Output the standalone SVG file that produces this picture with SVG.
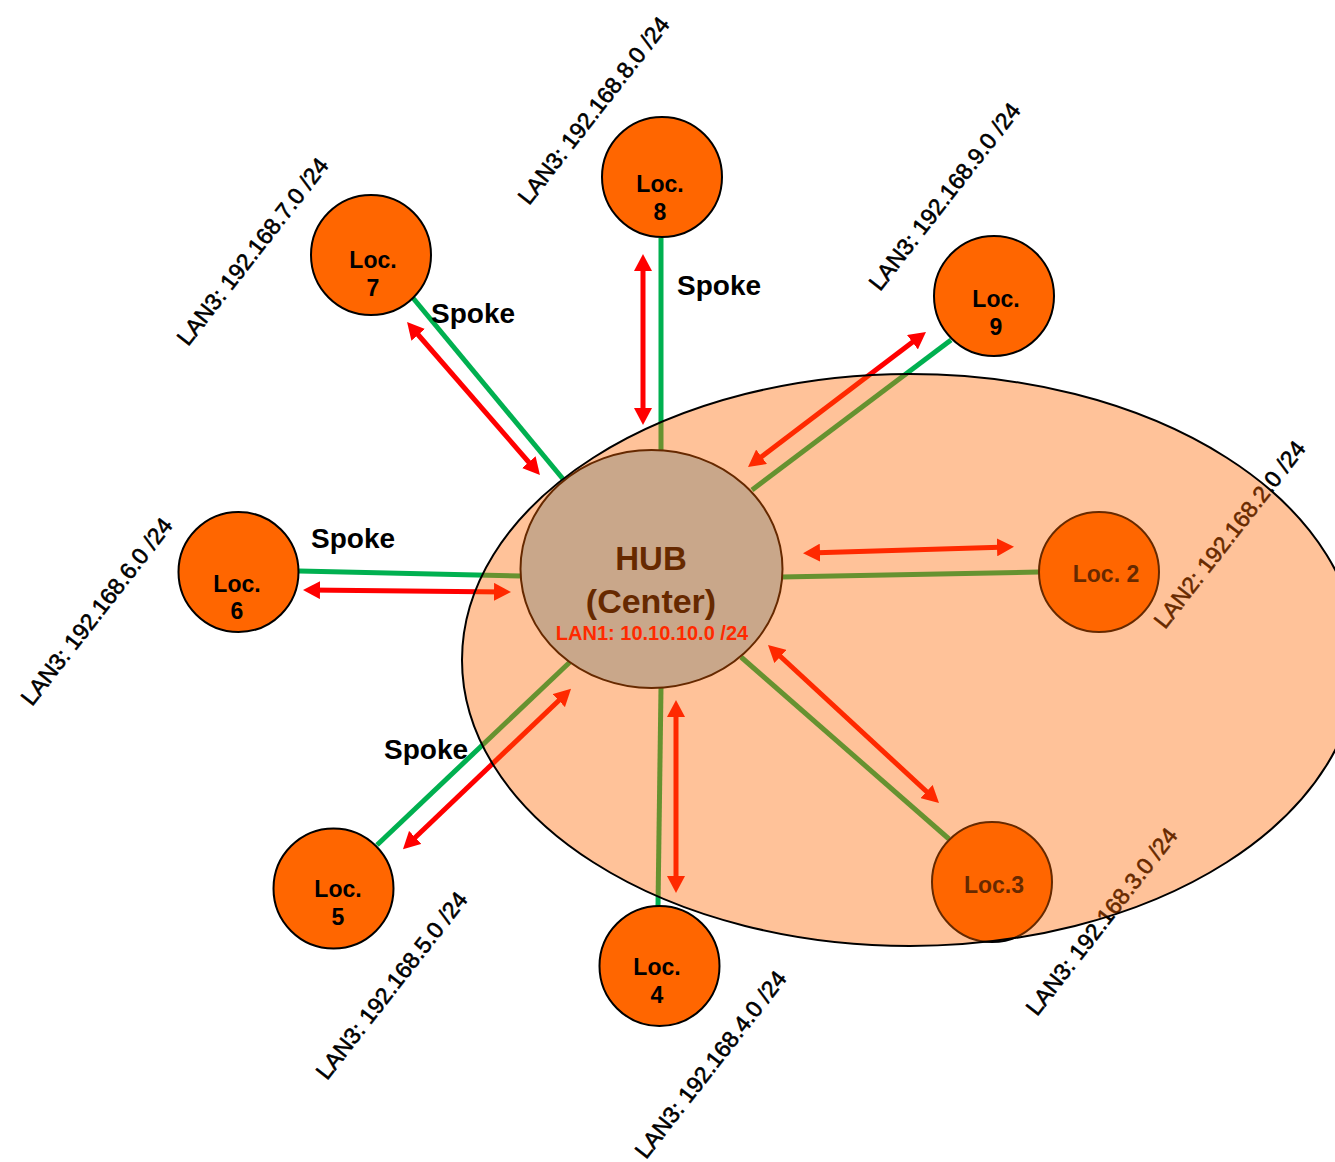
<svg xmlns="http://www.w3.org/2000/svg" width="1335" height="1162" viewBox="0 0 1335 1162">
<style>
.loc{fill:#ff6600;stroke:#000;stroke-width:2}
.lt{font-family:"Liberation Sans",Arial,sans-serif;font-weight:bold;font-size:23px;text-anchor:middle;fill:#000}
.sp{font-family:"Liberation Sans",Arial,sans-serif;font-weight:bold;font-size:28px;fill:#000}
.lan{font-family:"Liberation Sans",Arial,sans-serif;font-size:23px;fill:#000;stroke:#000;stroke-width:0.6}
.g{stroke:#00b050;stroke-width:5;fill:none}
.r{stroke:#ff0000;stroke-width:5;fill:none;marker-start:url(#ah);marker-end:url(#ah)}
</style>
<defs>
<marker id="ah" viewBox="0 0 17 18" refX="11" refY="9" markerWidth="17" markerHeight="18" markerUnits="userSpaceOnUse" orient="auto-start-reverse">
<path d="M0,0 L17,9 L0,18 z" fill="#ff0000"/>
</marker>
</defs>
<rect width="1335" height="1162" fill="#fff"/>
<g id="connectors">
<line class="g" x1="661" y1="238" x2="661" y2="450"/>
<line class="g" x1="413" y1="298" x2="563" y2="479"/>
<line class="g" x1="951" y1="340" x2="752" y2="490"/>
<line class="g" x1="299" y1="571" x2="521" y2="576"/>
<line class="g" x1="781" y1="577" x2="1039" y2="572"/>
<line class="g" x1="741" y1="657" x2="949" y2="839"/>
<line class="g" x1="661" y1="688" x2="658" y2="906"/>
<line class="g" x1="377" y1="845" x2="570" y2="662"/>
<line class="r" x1="643" y1="260" x2="643" y2="419"/>
<line class="r" x1="411" y1="326.5" x2="536" y2="470.5"/>
<line class="r" x1="921.2" y1="335.6" x2="752.8" y2="463.4"/>
<line class="r" x1="309" y1="590" x2="505" y2="592"/>
<line class="r" x1="809" y1="553" x2="1008" y2="547"/>
<line class="r" x1="772.4" y1="649" x2="934.6" y2="799"/>
<line class="r" x1="676" y1="706" x2="676" y2="887"/>
<line class="r" x1="566.7" y1="693" x2="407.3" y2="845"/>
</g>
<g id="hub">
<ellipse cx="651.5" cy="569" rx="131" ry="119" fill="#a6d2e6" stroke="#000" stroke-width="2"/>
<text x="651" y="570" font-family="Liberation Sans,Arial,sans-serif" font-weight="bold" font-size="33" text-anchor="middle" fill="#000">HUB</text>
<text x="651" y="613" font-family="Liberation Sans,Arial,sans-serif" font-weight="bold" font-size="34" text-anchor="middle" fill="#000">(Center)</text>
<text x="652" y="640" font-family="Liberation Sans,Arial,sans-serif" font-weight="bold" font-size="20" text-anchor="middle" fill="#ff0000">LAN1: 10.10.10.0 /24</text>
</g>
<g id="loc8"><circle class="loc" cx="662" cy="177" r="60"/><text class="lt" x="660" y="192">Loc.</text><text class="lt" x="660" y="220">8</text></g>
<g id="loc7"><circle class="loc" cx="371" cy="255" r="60"/><text class="lt" x="373" y="268">Loc.</text><text class="lt" x="373" y="296">7</text></g>
<g id="loc9"><circle class="loc" cx="994" cy="296" r="60"/><text class="lt" x="996" y="307">Loc.</text><text class="lt" x="996" y="335">9</text></g>
<g id="loc6"><circle class="loc" cx="238.5" cy="572" r="60"/><text class="lt" x="237" y="592">Loc.</text><text class="lt" x="237" y="619">6</text></g>
<g id="loc2"><circle class="loc" cx="1099" cy="572" r="60"/><text class="lt" x="1106" y="582">Loc. 2</text></g>
<g id="loc3"><circle class="loc" cx="992" cy="882" r="60"/><text class="lt" x="994" y="893">Loc.3</text></g>
<g id="loc4"><circle class="loc" cx="659.5" cy="966" r="60"/><text class="lt" x="657" y="975">Loc.</text><text class="lt" x="657" y="1003">4</text></g>
<g id="loc5"><circle class="loc" cx="333.5" cy="888.5" r="60"/><text class="lt" x="338" y="897">Loc.</text><text class="lt" x="338" y="925">5</text></g>
<g id="labels">
<text class="sp" x="431" y="323">Spoke</text>
<text class="sp" x="677" y="295">Spoke</text>
<text class="sp" x="311" y="548">Spoke</text>
<text class="sp" x="384" y="759">Spoke</text>
<text class="lan" x="188" y="347" transform="rotate(-52 188 347)">LAN3: 192.168.7.0 /24</text>
<text class="lan" x="529" y="206" transform="rotate(-52 529 206)">LAN3: 192.168.8.0 /24</text>
<text class="lan" x="880" y="292" transform="rotate(-52 880 292)">LAN3: 192.168.9.0 /24</text>
<text class="lan" x="32" y="707" transform="rotate(-52 32 707)">LAN3: 192.168.6.0 /24</text>
<text class="lan" x="1165" y="630" transform="rotate(-52 1165 630)">LAN2: 192.168.2.0 /24</text>
<text class="lan" x="1037" y="1017" transform="rotate(-52 1037 1017)">LAN3: 192.168.3.0 /24</text>
<text class="lan" x="646" y="1160" transform="rotate(-52 646 1160)">LAN3: 192.168.4.0 /24</text>
<text class="lan" x="327" y="1081" transform="rotate(-52 327 1081)">LAN3: 192.168.5.0 /24</text>
</g>
<g id="lan-area">
<ellipse cx="910" cy="660" rx="448" ry="286" fill="#ff6600" fill-opacity="0.4" stroke="#000" stroke-width="2"/>
</g>
</svg>
